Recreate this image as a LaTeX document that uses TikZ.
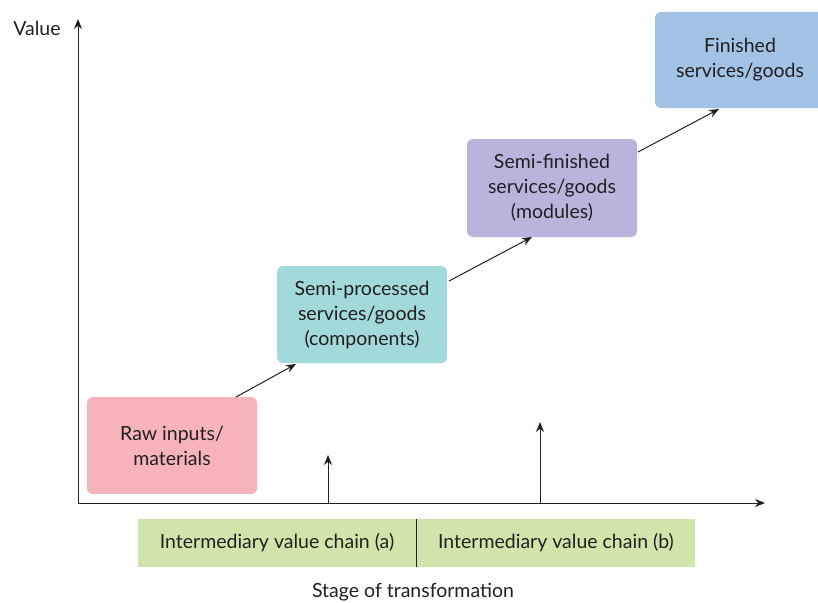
\documentclass[tikz,border=0pt]{standalone}
\usepackage{fontspec}
\setmainfont{Lato}
\usetikzlibrary{arrows.meta}
\definecolor{rawc}{HTML}{F6B4BA}
\definecolor{semic}{HTML}{A2D9DB}
\definecolor{modc}{HTML}{B8B4DC}
\definecolor{finc}{HTML}{A2C2E6}
\definecolor{barc}{HTML}{D1E4AC}
\definecolor{txt}{HTML}{231F20}
\begin{document}
\begin{tikzpicture}[x=1pt,y=-1pt,
  stage/.style={text=txt, align=center, font=\fontsize{19.5}{25}\selectfont},
  ax/.style={line width=1pt, draw=txt, -{Stealth[length=10pt,width=8pt]}},
  conn/.style={line width=1pt, draw=txt, -{Stealth[length=10pt,width=8pt]}},
  lbl/.style={text=txt, font=\fontsize{19.5}{25}\selectfont}]
\useasboundingbox (0,0) rectangle (818,602);
% axes
\coordinate (O) at (78,503);
\coordinate (Ytop) at (78,19);
\coordinate (Xend) at (765,503);
\draw[ax] (O) -- (Ytop);
\draw[ax] (O) -- (Xend);
\node[lbl, anchor=center] (val) at (37,28) {Value};
% boxes
\fill[rawc, rounded corners=6pt] (87,397) rectangle (257,494);
\node[stage] (raw) at (172,445.5) {Raw inputs/\\materials};
\fill[semic, rounded corners=6pt] (277,266) rectangle (447,363);
\node[stage] (semi) at (362,314.5) {Semi-processed\\services/goods\\(components)};
\fill[modc, rounded corners=6pt] (467,139) rectangle (637,237);
\node[stage] (mod) at (552,188) {Semi-finished\\services/goods\\(modules)};
\fill[finc, rounded corners=6pt] (655,12) rectangle (830,108);
\node[stage] (fin) at (740,60) {Finished\\services/goods};
% connectors
\coordinate (a1) at (236,397);
\coordinate (a2) at (296,364);
\coordinate (b1) at (449,281);
\coordinate (b2) at (532,237);
\coordinate (c1) at (638,152);
\coordinate (c2) at (719,109);
\draw[conn] (a1) -- (a2);
\draw[conn] (b1) -- (b2);
\draw[conn] (c1) -- (c2);
% small arrows
\coordinate (s1b) at (328,503);
\coordinate (s1t) at (328,455);
\coordinate (s2b) at (540,503);
\coordinate (s2t) at (540,422);
\draw[conn] (s1b) -- (s1t);
\draw[conn] (s2b) -- (s2t);
% bar
\fill[barc] (138,519) rectangle (695,567);
\draw[line width=1pt, draw=txt] (416,519) -- (416,567);
\node[lbl] (ca) at (277,543) {Intermediary value chain (a)};
\node[lbl] (cb) at (556,543) {Intermediary value chain (b)};
\node[lbl] (stage) at (413,592) {Stage of transformation};
\end{tikzpicture}
\end{document}
